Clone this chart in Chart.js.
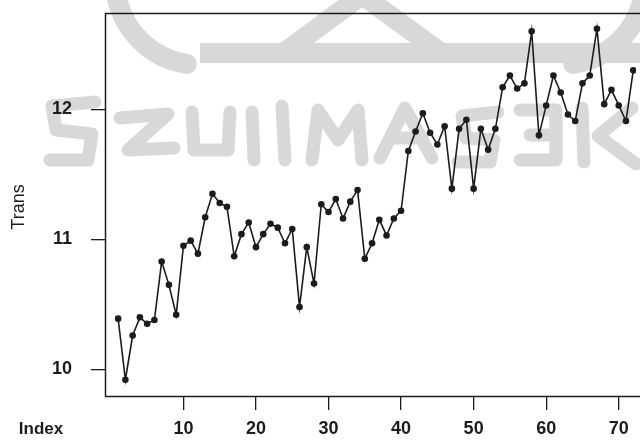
<!DOCTYPE html>
<html>
<head>
<meta charset="utf-8">
<script src="https://cdn.jsdelivr.net/npm/chart.js@4.4.0/dist/chart.umd.min.js"></script>
<style>
  html, body { margin: 0; padding: 0; background: #fff; overflow: hidden; }
</style>
</head>
<body>
<canvas id="transChart" width="640" height="442"></canvas>
<script>
// observation number and transformed value
const obsIndex = [
  1, 2, 3, 4, 5, 6, 7, 8, 9, 10, 11, 12, 13, 14, 15, 16, 17, 18,
  19, 20, 21, 22, 23, 24, 25, 26, 27, 28, 29, 30, 31, 32, 33, 34, 35, 36,
  37, 38, 39, 40, 41, 42, 43, 44, 45, 46, 47, 48, 49, 50, 51, 52, 53, 54,
  55, 56, 57, 58, 59, 60, 61, 62, 63, 64, 65, 66, 67, 68, 69, 70, 71, 72
];
const trans = [
  10.39, 9.92, 10.26, 10.40, 10.35, 10.38, 10.83, 10.65, 10.42, 10.95, 10.99, 10.89,
  11.17, 11.35, 11.28, 11.25, 10.87, 11.04, 11.13, 10.94, 11.04, 11.12, 11.09, 10.97,
  11.08, 10.48, 10.94, 10.66, 11.27, 11.21, 11.31, 11.16, 11.29, 11.38, 10.85, 10.97,
  11.15, 11.03, 11.16, 11.22, 11.68, 11.83, 11.97, 11.82, 11.73, 11.87, 11.39, 11.85,
  11.92, 11.39, 11.85, 11.69, 11.85, 12.17, 12.26, 12.16, 12.20, 12.60, 11.80, 12.03,
  12.26, 12.13, 11.96, 11.91, 12.20, 12.26, 12.62, 12.04, 12.15, 12.03, 11.91, 12.30
];
const xTicks = [10, 20, 30, 40, 50, 60, 70];
const yTicks = [10, 11, 12];

const ink = "#1c1c1c";
const tickFont = { family: "Liberation Sans, Arial, sans-serif", size: 18, weight: "bold" };

// faint emblem printed behind the plot
const emblem = {
  id: "emblem",
  beforeDraw(chart) {
    const ctx = chart.ctx;
    ctx.save();
    ctx.strokeStyle = "#d8d8d8";
    ctx.fillStyle = "#d8d8d8";
    ctx.lineCap = "round";
    ctx.lineJoin = "round";
    ctx.lineWidth = 20;
    ctx.beginPath();
    ctx.arc(200, -20, 85, 0.55 * Math.PI, 0.95 * Math.PI);
    ctx.stroke();
    ctx.beginPath();
    ctx.moveTo(285, 52);
    ctx.lineTo(362, -5);
    ctx.lineTo(440, 52);
    ctx.stroke();
    ctx.beginPath();
    ctx.arc(560, -20, 85, 0.05 * Math.PI, 0.45 * Math.PI);
    ctx.stroke();
    ctx.fillRect(200, 43, 440, 20);

    // lettering row under the emblem
    ctx.lineWidth = 13;
    const strokes = [
      [[95, 102], [52, 106], [56, 130], [92, 134], [88, 160], [50, 160]],
      [[120, 118], [168, 114], [128, 150], [174, 148]],
      [[192, 112], [194, 150], [228, 150], [230, 112]],
      [[252, 112], [254, 160]],
      [[282, 106], [285, 160]],
      [[312, 160], [318, 110], [338, 140], [358, 110], [362, 160]],
      [[380, 158], [405, 108], [432, 158]],
      [[392, 138], [422, 138]],
      [[498, 112], [462, 116], [466, 138], [494, 140], [490, 162], [458, 162]],
      [[520, 110], [556, 110], [556, 160], [520, 160]],
      [[530, 135], [552, 135]],
      [[582, 108], [584, 162]],
      [[632, 108], [598, 136], [636, 164]]
    ];
    strokes.forEach((pts) => {
      ctx.beginPath();
      pts.forEach(([x, y], i) => (i ? ctx.lineTo(x, y) : ctx.moveTo(x, y)));
      ctx.stroke();
    });
    ctx.restore();
  }
};

// box round the plot, axis titles
const frame = {
  id: "frame",
  afterDraw(chart) {
    const ctx = chart.ctx;
    const a = chart.chartArea;
    ctx.save();
    ctx.strokeStyle = ink;
    ctx.lineWidth = 1.5;
    ctx.beginPath();
    ctx.moveTo(chart.width, a.top + 0.5);
    ctx.lineTo(a.left + 0.5, a.top + 0.5);
    ctx.lineTo(a.left + 0.5, a.bottom + 0.5);
    ctx.lineTo(chart.width, a.bottom + 0.5);
    ctx.stroke();

    ctx.fillStyle = ink;
    ctx.textBaseline = "middle";
    ctx.textAlign = "center";
    ctx.font = "bold 17px Liberation Sans, Arial, sans-serif";
    ctx.fillText("Index", 41, 429);

    ctx.font = "18px Liberation Sans, Arial, sans-serif";
    ctx.translate(19, 207);
    ctx.rotate(-Math.PI / 2);
    ctx.fillText("Trans", 0, 0);
    ctx.restore();
  }
};

new Chart(document.getElementById("transChart"), {
  type: "line",
  data: {
    datasets: [{
      data: obsIndex.map((x, i) => ({ x: x, y: trans[i] })),
      borderColor: ink,
      borderWidth: 1.6,
      pointRadius: 3.3,
      pointBackgroundColor: ink,
      pointBorderWidth: 0,
      tension: 0
    }]
  },
  options: {
    responsive: false,
    animation: false,
    events: [],
    layout: { padding: { top: 13, right: 0, bottom: 0, left: 0 } },
    plugins: { legend: { display: false }, tooltip: { enabled: false } },
    scales: {
      x: {
        type: "linear",
        min: -0.81,
        max: 72.38,
        afterBuildTicks: (s) => { s.ticks = xTicks.map((v) => ({ value: v })); },
        afterFit: (s) => { s.height = 46; s.paddingLeft = 0; s.paddingRight = 0; },
        border: { display: false },
        grid: { drawOnChartArea: false, drawTicks: true, tickLength: 14, tickColor: ink, lineWidth: 1.3 },
        ticks: { color: ink, font: tickFont, padding: 8, maxRotation: 0, autoSkip: false }
      },
      y: {
        min: 9.795,
        max: 12.741,
        afterBuildTicks: (s) => { s.ticks = yTicks.map((v) => ({ value: v })); },
        afterFit: (s) => { s.width = 105; s.paddingTop = 0; s.paddingBottom = 0; },
        border: { display: false },
        grid: { drawOnChartArea: false, drawTicks: true, tickLength: 14, tickColor: ink, lineWidth: 1.3 },
        ticks: { color: ink, font: tickFont, padding: 19 }
      }
    }
  },
  plugins: [emblem, frame]
});
</script>
</body>
</html>
